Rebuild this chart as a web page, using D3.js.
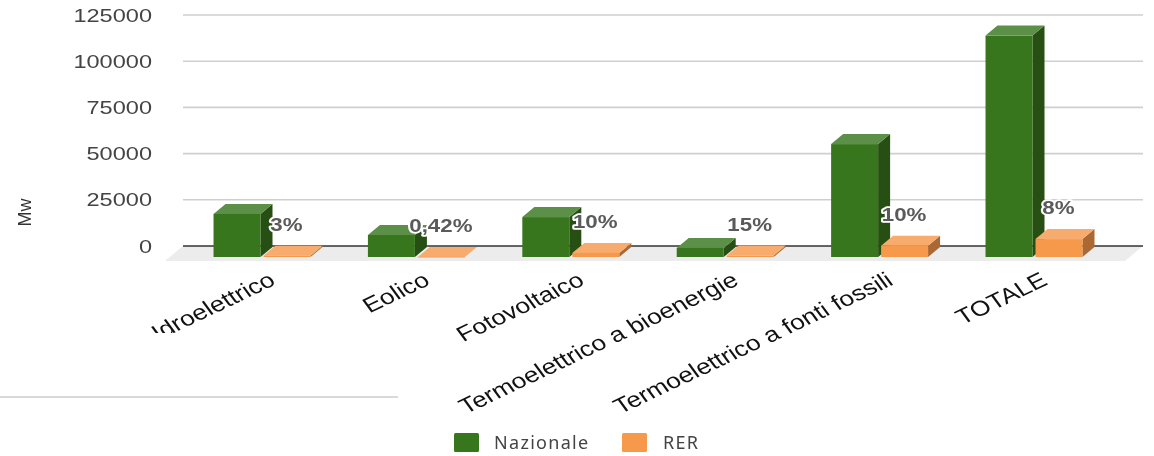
<!DOCTYPE html>
<html><head><meta charset="utf-8">
<script src="https://cdn.jsdelivr.net/npm/d3@7"></script>
<style>html,body{margin:0;padding:0;background:#fff;overflow:hidden}svg{display:block;filter:blur(0.35px)}text{font-family:"Liberation Sans",Arial,sans-serif}</style>
</head><body><svg id="c" width="1154" height="456"></svg>
<script>
const categories = ["Idroelettrico","Eolico","Fotovoltaico","Termoelettrico a bioenergie","Termoelettrico a fonti fossili","TOTALE"];
const seriesNames = ["Nazionale","RER"];
const nazionale = [23300,11900,21600,4900,61100,119800];
const rer = [650,50,2200,750,6100,9700];
const pctLabels = ["3%","0,42%","10%","15%","10%","8%"];
const yTicks = [0,25000,50000,75000,100000,125000];

const svg = d3.select("#c");
const stretch = 1.24;
const dx = 12, dy = 10, baseShift = 11;
const y = d3.scaleLinear().domain([0,125000]).range([246,15]);
const x0 = d3.scaleBand().domain(categories).range([184.8,1111.2]).paddingInner(0.372).paddingOuter(0.186);
const x1 = d3.scaleBand().domain(seriesNames).range([0,x0.bandwidth()]).paddingInner(0.06);
const colors = {
  Nazionale:{front:"#38761d",top:"#5c9049",side:"#274e13"},
  RER:{front:"#f6994a",top:"#f7ab6c",side:"#ac6832"}
};

// floor
svg.append("polygon").attr("fill","#ececec")
  .attr("points",[[165,261],[183,246],[1143,246],[1125,261]].join(" "));

// grid
svg.append("g").selectAll("line").data(yTicks.filter(d=>d>0)).join("line")
  .attr("x1",183).attr("x2",1143).attr("y1",d=>y(d)).attr("y2",d=>y(d))
  .attr("stroke","#cfcfcf").attr("stroke-width",1.6);
svg.append("line").attr("x1",183).attr("x2",1143).attr("y1",y(0)).attr("y2",y(0))
  .attr("stroke","#333").attr("stroke-width",1.4);

// y tick labels
svg.append("g").selectAll("text").data(yTicks).join("text")
  .attr("transform",d=>`translate(152,${y(d)+6.5}) scale(${stretch},1)`)
  .attr("text-anchor","end").attr("font-size",19).attr("fill","#444").text(d=>d);

// axis title
svg.append("text").attr("transform","translate(31,212.5) rotate(-90)")
  .attr("text-anchor","middle").attr("font-size",18).attr("fill","#333").text("Mw");

// bars
const rows = categories.map((c,i)=>({c,i,Nazionale:nazionale[i],RER:rer[i]}));
const base = y(0)+baseShift;
const g = svg.append("g");
rows.forEach(r=>{
  seriesNames.forEach(s=>{
    const xl = x0(r.c)+x1(s), w = x1.bandwidth();
    const top = y(r[s])+baseShift, col = colors[s];
    const b = g.append("g");
    b.append("polygon").attr("fill",col.side)
      .attr("points",[[xl+w,top],[xl+w+dx,top-dy],[xl+w+dx,base-dy],[xl+w,base]].join(" "));
    b.append("polygon").attr("fill",col.top)
      .attr("points",[[xl,top],[xl+dx,top-dy],[xl+w+dx,top-dy],[xl+w,top]].join(" "));
    b.append("rect").attr("x",xl).attr("y",top).attr("width",w).attr("height",Math.max(base-top,0.6)).attr("fill",col.front);
  });
});

// data labels
svg.append("g").selectAll("text").data(rows).join("text")
  .attr("transform",r=>`translate(${x0(r.c)+x1("RER")+x1.bandwidth()/2-0.5},${y(r.RER)-14}) scale(${stretch},1)`)
  .attr("text-anchor","middle").attr("font-size",18).attr("font-weight","bold")
  .attr("fill","#5a5a5a").attr("stroke","#fff").attr("stroke-width",3.5).attr("stroke-linejoin","round")
  .attr("paint-order","stroke").text(r=>pctLabels[r.i]);

// category labels
svg.append("g").selectAll("text").data(rows).join("text")
  .attr("transform",r=>`translate(${x0(r.c)+x0.bandwidth()/2+15},284) scale(${stretch},1) rotate(-30.5)`)
  .attr("text-anchor","end").attr("font-size",21.3).attr("fill","#111").text(r=>r.c);

// overlay panel with rule
svg.append("rect").attr("x",0).attr("y",333).attr("width",398).attr("height",64).attr("fill","#fff");
svg.append("line").attr("x1",0).attr("x2",398).attr("y1",397).attr("y2",397).attr("stroke","#ccc").attr("stroke-width",1.6);

// legend
const legendX = d3.scaleOrdinal().domain(seriesNames).range([454,622]);
const lg = svg.append("g").selectAll("g").data(seriesNames).join("g")
  .attr("transform",d=>`translate(${legendX(d)},433)`);
lg.append("rect").attr("width",25).attr("height",19).attr("rx",1.5).attr("fill",d=>colors[d].front);
lg.append("text").attr("x",d=>d==="RER"?41:40).attr("y",16).attr("font-size",18)
  .style("font-family","'Noto Sans'").attr("letter-spacing",1.3).attr("fill","#444").text(d=>d);
</script></body></html>
